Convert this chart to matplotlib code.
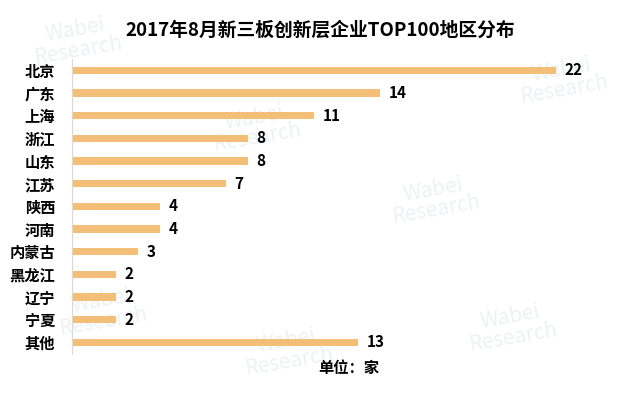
import matplotlib
matplotlib.use('Agg')
import matplotlib.pyplot as plt

plt.rcParams['font.family'] = ['Noto Sans CJK SC', 'DejaVu Sans']

regions = ['北京', '广东', '上海', '浙江', '山东', '江苏', '陕西', '河南',
           '内蒙古', '黑龙江', '辽宁', '宁夏', '其他']
counts = [22, 14, 11, 8, 8, 7, 4, 4, 3, 2, 2, 2, 13]

fig = plt.figure(figsize=(6.4, 3.99), dpi=100)
ax = fig.add_axes([0.1125, 0.1135, 0.859, 0.7385])
ax.set_zorder(2)

# faint watermarks behind everything
for wx, wy in [(0.12, 0.90), (0.40, 0.68), (0.68, 0.50), (0.88, 0.80),
               (0.16, 0.22), (0.45, 0.12), (0.80, 0.18)]:
    fig.text(wx, wy, 'Wabei\nResearch', color='#EEF1F5', fontsize=15,
             rotation=10, ha='center', va='center', zorder=-5, linespacing=0.9)

y = list(range(len(regions)))
ax.barh(y, counts, height=0.32, color='#F2BE78', zorder=2)
for yi, c in zip(y, counts):
    ax.text(c + 0.4, yi, str(c), va='center', ha='left', fontsize=11,
            fontweight='bold', color='black')

ax.set_ylim(12.5, -0.5)
ax.set_xlim(0, 25)
ax.set_yticks(y)
ax.set_yticklabels(regions, fontsize=11, fontweight='bold')
ax.set_xticks([])
ax.tick_params(axis='y', length=0, pad=12)
for s in ['top', 'right', 'bottom']:
    ax.spines[s].set_visible(False)
ax.spines['left'].set_color('#D9D9D9')
ax.spines['left'].set_linewidth(0.8)
ax.patch.set_alpha(0)

fig.text(0.5, 0.925, '2017年8月新三板创新层企业TOP100地区分布', ha='center', va='center',
         fontsize=13.5, fontweight='bold')
fig.text(0.545, 0.078, '单位：家', ha='center', va='center', fontsize=11, fontweight='bold')

fig.savefig('out.png', dpi=100)
